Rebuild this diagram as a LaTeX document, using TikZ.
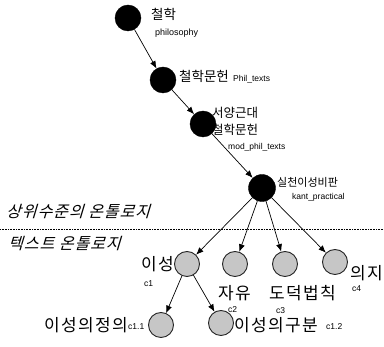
\documentclass[tikz,border=0pt]{standalone}
\usepackage{fontspec}
\setmainfont{Liberation Sans}
\newfontfamily\krfont{Noto Sans CJK KR}
\newfontfamily\krwidefont[LetterSpace=8]{Noto Sans CJK KR}
\newfontfamily\kritfont[FakeSlant=0.3,LetterSpace=6]{Noto Sans CJK KR}
\usetikzlibrary{arrows.meta}

\tikzset{
  classnode/.style={circle,draw=black,fill=black,minimum size=26pt,inner sep=0},
  conceptnode/.style={circle,draw=black!85,line width=0.9pt,fill=gray!45,minimum size=25pt,inner sep=0},
  isa/.style={-{Latex[length=7.5pt,width=6pt]},line width=0.7pt},
  krlabel/.style={font=\krfont\fontsize{13.5}{15}\selectfont,inner sep=0,anchor=west},
  krbig/.style={font=\krwidefont\fontsize{17}{19}\selectfont,inner sep=0,anchor=west},
  idlabel/.style={font=\fontsize{8.5}{10}\selectfont,inner sep=0,anchor=west},
  levellabel/.style={font=\kritfont\fontsize{16}{18}\selectfont,inner sep=0,anchor=west}
}

\begin{document}
\begin{tikzpicture}[x=1pt,y=-1pt]
    \useasboundingbox (0,0) rectangle (384,347);
    \pgfmathsetmacro{\levelline}{229}
    % upper ontology
    \node[classnode] (philosophy) at (128,18) {};
    \node[classnode] (phil_texts) at (163,80) {};
    \node[classnode] (mod_phil_texts) at (203,124) {};
    \node[classnode,minimum size=27pt] (kant_practical) at (262,188) {};
    \node[krlabel] (philosophy_kr) at (151,14) {철학};
    \node[idlabel,font=\fontsize{9}{10}\selectfont] (philosophy_id) at (155,33) {philosophy};
    \node[krlabel] (phil_texts_kr) at (179,76) {철학문헌};
    \node[idlabel] (phil_texts_id) at (233,79) {Phil\_texts};
    \node[krlabel,font=\krfont\fontsize{12.5}{14}\selectfont] (mod_phil_texts_kr) at (212,113) {서양근대};
    \node[krlabel,font=\krfont\fontsize{12.5}{14}\selectfont] (mod_phil_texts_kr2) at (212,130) {철학문헌};
    \node[idlabel] (mod_phil_texts_id) at (228,147) {mod\_phil\_texts};
    \node[krlabel,font=\krfont\fontsize{11}{13}\selectfont] (kant_practical_kr) at (277,182) {실천이성비판};
    \node[idlabel] (kant_practical_id) at (292,197) {kant\_practical};
    % level separator
    \draw[densely dotted,line width=0.6pt] (0,\levelline) -- (384,\levelline);
    \node[levellabel] (upper_level) at (6,212) {상위수준의 온톨로지};
    \node[levellabel] (text_level) at (8,244) {텍스트 온톨로지};
    % text ontology
    \node[conceptnode] (c1) at (187,264) {};
    \node[conceptnode] (c2) at (235,264) {};
    \node[conceptnode] (c3) at (285,264) {};
    \node[conceptnode] (c4) at (335,262) {};
    \node[conceptnode] (c11) at (161,325) {};
    \node[conceptnode] (c12) at (221,323) {};
    \node[krbig,anchor=east] (c1_kr) at (174,264) {이성};
    \node[idlabel] (c1_id) at (144,284) {c1};
    \node[krbig] (c2_kr) at (218,293) {자유};
    \node[idlabel] (c2_id) at (228,310) {c2};
    \node[krbig] (c3_kr) at (269,293) {도덕법칙};
    \node[idlabel] (c3_id) at (276,311) {c3};
    \node[krbig] (c4_kr) at (350,273) {의지};
    \node[idlabel] (c4_id) at (352,289) {c4};
    \node[krbig,anchor=east] (c11_kr) at (128,325) {이성의정의};
    \node[idlabel] (c11_id) at (128,327) {c1.1};
    \node[krbig] (c12_kr) at (234,325) {이성의구분};
    \node[idlabel] (c12_id) at (326,327) {c1.2};
    % links
    \draw[isa] (philosophy) -- (phil_texts);
    \draw[isa] (phil_texts) -- (mod_phil_texts);
    \draw[isa] (mod_phil_texts) -- (kant_practical);
    \foreach \child in {c1,c2,c3,c4}
        \draw[isa] (kant_practical) -- (\child);
    \draw[isa] (c1) -- (c11);
    \draw[isa] (c1) -- (c12);
\end{tikzpicture}
\end{document}
